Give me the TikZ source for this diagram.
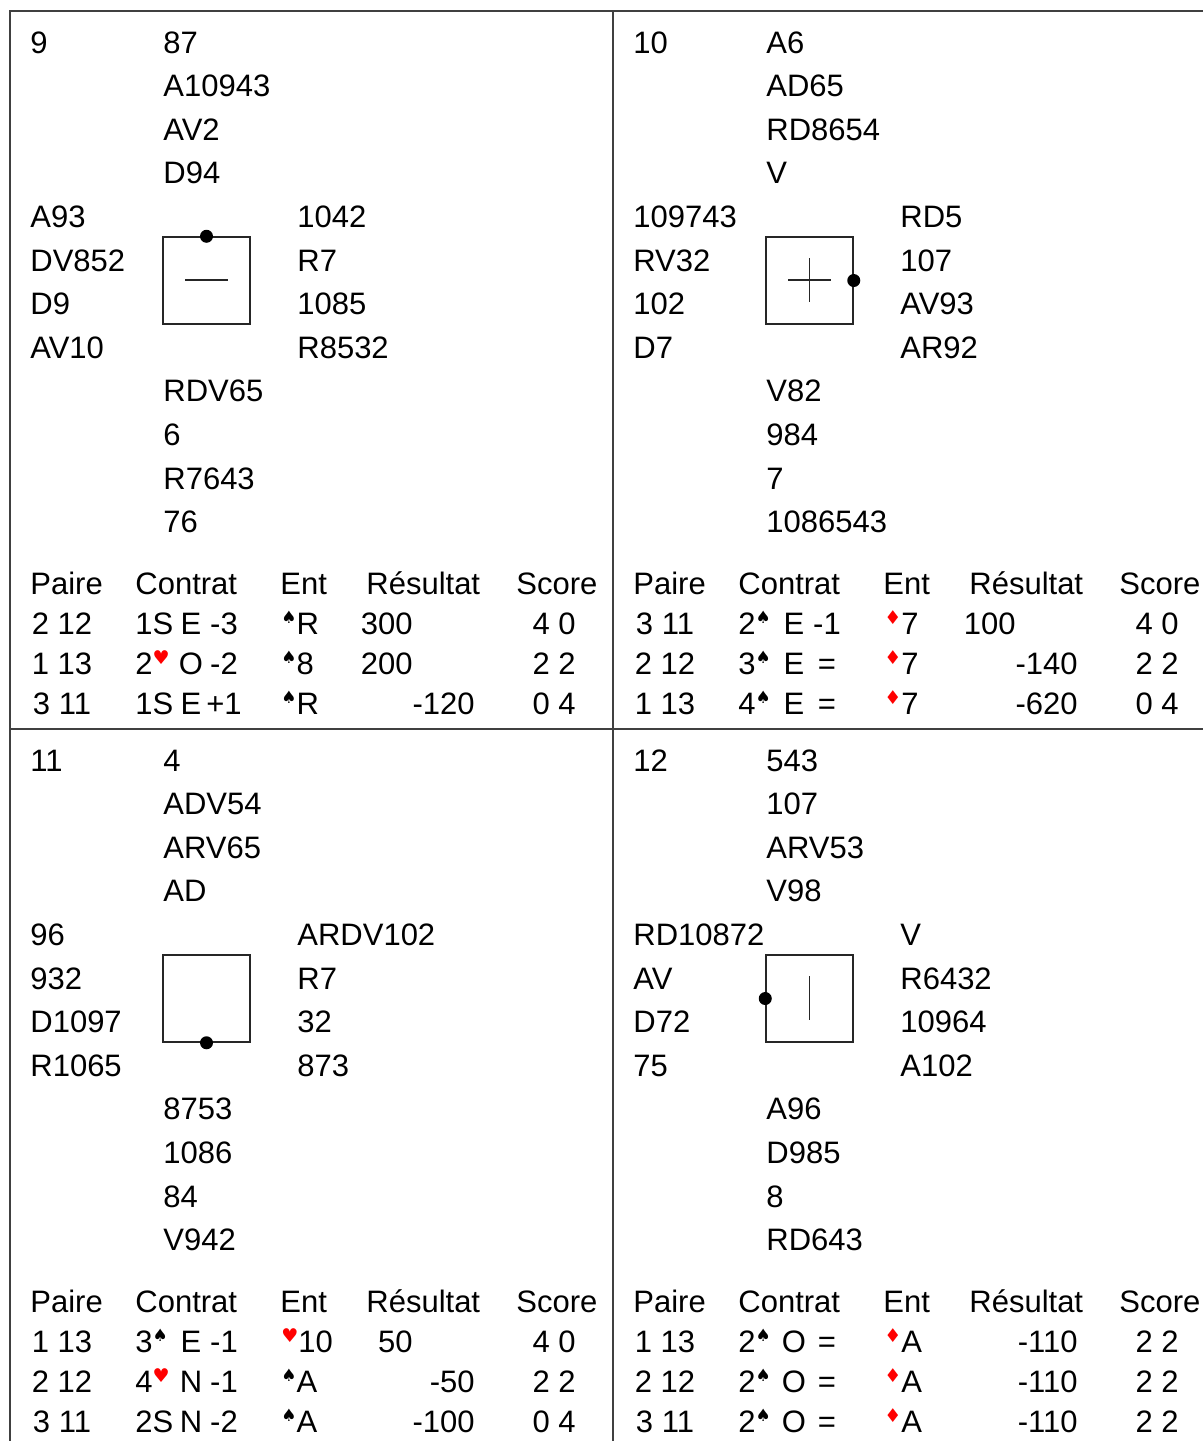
\documentclass[tikz,border=0pt]{standalone}
\usepackage{fontspec}
\setmainfont{Liberation Sans}
\newfontfamily\symfont{DejaVu Sans}
\newcommand\suitS{\raisebox{0.34em}{\symfont\fontsize{8.5}{9}\selectfont ♠}}
\newcommand\suitH{\raisebox{0.30em}{\symfont\fontsize{9.5}{10}\selectfont\color{red}♥}}
\newcommand\suitD{\raisebox{0.30em}{\symfont\fontsize{9.5}{10}\selectfont\color{red}♦}}
\newcommand\handcol[7]{%
  \node[txt] (#1a) at (#2,{53+43.6*#3}) {#4};
  \node[txt] (#1b) at (#2,{53+43.6*(#3+1)}) {#5};
  \node[txt] (#1c) at (#2,{53+43.6*(#3+2)}) {#6};
  \node[txt] (#1d) at (#2,{53+43.6*(#3+3)}) {#7};}
\newcommand\tabrow[7]{%
  \node[ctxt] (#1p) at (62,#2) {#3};
  \node[txt] (#1c) at (135,#2) {#4};
  \node[ctxt] (#1d) at (191,#2) {#5};
  \node[ctxt] (#1r) at (224,#2) {#6};
  \node[txt] (#1l) at (281,#2) {#7};}
\newcommand\tabres[5]{%
  \node[rtxt] (#1s) at (#3,#2) {#4};
  \node[rtxt] (#1t) at (576,#2) {#5};}
\newcommand\tabhead[1]{%
  \node[txt] (#1hp) at (30,594) {Paire};
  \node[txt] (#1hc) at (135,594) {Contrat};
  \node[txt] (#1he) at (280,594) {Ent};
  \node[txt] (#1hr) at (366,594) {Résultat};
  \node[txt] (#1hs) at (516,594) {Score};}
\tikzset{
  txt/.style={inner sep=0pt, anchor=base west, font=\fontsize{15.5}{18}\selectfont},
  ctxt/.style={txt, anchor=base},
  rtxt/.style={txt, anchor=base east},
  gridline/.style={draw=black!75, line width=0.8pt},
  dealbox/.style={draw=black!85, line width=0.75pt, minimum size=43.5pt, inner sep=0pt},
  vuln/.style={fill=black, circle, inner sep=0pt, minimum size=6.5pt},
  vulnline/.style={draw=black!85, line width=0.75pt}
}
\begin{document}
\begin{tikzpicture}[x=0.5pt,y=-0.5pt]
\useasboundingbox (0,0) rectangle (1203,1441);
\clip (0,0) rectangle (1203,1441);
% grid
\coordinate (g1) at (10,11); \coordinate (g2) at (1216,1447);
\coordinate (vt) at (613,11); \coordinate (vb) at (613,1447);
\coordinate (hl) at (10,729); \coordinate (hr) at (1216,729);
\draw[gridline] (g1) rectangle (g2);
\draw[gridline] (vt) -- (vb);
\draw[gridline] (hl) -- (hr);

% ---------------- Board 9
\begin{scope}
\node[txt] (b9num) at (30,53) {9};
\handcol{b9n}{163}{0}{87}{A10943}{AV2}{D94}
\handcol{b9w}{30}{4}{A93}{DV852}{D9}{AV10}
\handcol{b9e}{297}{4}{1042}{R7}{1085}{R8532}
\handcol{b9s}{163}{8}{RDV65}{6}{R7643}{76}
\node[dealbox] (b9box) at (206.5,280.5) {};
\node[vuln] (b9dot) at (b9box.north) {};
\coordinate (b9l1) at (185,280); \coordinate (b9l2) at (228,280);
\draw[vulnline] (b9l1) -- (b9l2);
\tabhead{b9}
\tabrow{b9ra}{634}{2 12}{1S}{E}{-3}{\suitS R}
\tabres{b9ra}{634}{413}{300}{4 0}
\tabrow{b9rb}{674}{1 13}{2\suitH}{O}{-2}{\suitS 8}
\tabres{b9rb}{674}{413}{200}{2 2}
\tabrow{b9rc}{714}{3 11}{1S}{E}{+1}{\suitS R}
\tabres{b9rc}{714}{475}{-120}{0 4}
\end{scope}

% ---------------- Board 10
\begin{scope}[shift={(603,0)}]
\node[txt] (b10num) at (30,53) {10};
\handcol{b10n}{163}{0}{A6}{AD65}{RD8654}{V}
\handcol{b10w}{30}{4}{109743}{RV32}{102}{D7}
\handcol{b10e}{297}{4}{RD5}{107}{AV93}{AR92}
\handcol{b10s}{163}{8}{V82}{984}{7}{1086543}
\node[dealbox] (b10box) at (206.5,280.5) {};
\node[vuln] (b10dot) at (b10box.east) {};
\coordinate (b10h1) at (185,280); \coordinate (b10h2) at (228,280);
\coordinate (b10v1) at (206.5,258); \coordinate (b10v2) at (206.5,302);
\draw[vulnline] (b10h1) -- (b10h2);
\draw[vulnline] (b10v1) -- (b10v2);
\tabhead{b10}
\tabrow{b10ra}{634}{3 11}{2\suitS}{E}{-1}{\suitD 7}
\tabres{b10ra}{634}{413}{100}{4 0}
\tabrow{b10rb}{674}{2 12}{3\suitS}{E}{=}{\suitD 7}
\tabres{b10rb}{674}{475}{-140}{2 2}
\tabrow{b10rc}{714}{1 13}{4\suitS}{E}{=}{\suitD 7}
\tabres{b10rc}{714}{475}{-620}{0 4}
\end{scope}

% ---------------- Board 11
\begin{scope}[shift={(0,718)}]
\node[txt] (b11num) at (30,53) {11};
\handcol{b11n}{163}{0}{4}{ADV54}{ARV65}{AD}
\handcol{b11w}{30}{4}{96}{932}{D1097}{R1065}
\handcol{b11e}{297}{4}{ARDV102}{R7}{32}{873}
\handcol{b11s}{163}{8}{8753}{1086}{84}{V942}
\node[dealbox] (b11box) at (206.5,280.5) {};
\node[vuln] (b11dot) at (b11box.south) {};
\tabhead{b11}
\tabrow{b11ra}{634}{1 13}{3\suitS}{E}{-1}{\suitH 10}
\tabres{b11ra}{634}{413}{50}{4 0}
\tabrow{b11rb}{674}{2 12}{4\suitH}{N}{-1}{\suitS A}
\tabres{b11rb}{674}{475}{-50}{2 2}
\tabrow{b11rc}{714}{3 11}{2S}{N}{-2}{\suitS A}
\tabres{b11rc}{714}{475}{-100}{0 4}
\end{scope}

% ---------------- Board 12
\begin{scope}[shift={(603,718)}]
\node[txt] (b12num) at (30,53) {12};
\handcol{b12n}{163}{0}{543}{107}{ARV53}{V98}
\handcol{b12w}{30}{4}{RD10872}{AV}{D72}{75}
\handcol{b12e}{297}{4}{V}{R6432}{10964}{A102}
\handcol{b12s}{163}{8}{A96}{D985}{8}{RD643}
\node[dealbox] (b12box) at (206.5,280.5) {};
\node[vuln] (b12dot) at (b12box.west) {};
\coordinate (b12v1) at (206.5,258); \coordinate (b12v2) at (206.5,302);
\draw[vulnline] (b12v1) -- (b12v2);
\tabhead{b12}
\tabrow{b12ra}{634}{1 13}{2\suitS}{O}{=}{\suitD A}
\tabres{b12ra}{634}{475}{-110}{2 2}
\tabrow{b12rb}{674}{2 12}{2\suitS}{O}{=}{\suitD A}
\tabres{b12rb}{674}{475}{-110}{2 2}
\tabrow{b12rc}{714}{3 11}{2\suitS}{O}{=}{\suitD A}
\tabres{b12rc}{714}{475}{-110}{2 2}
\end{scope}
\end{tikzpicture}
\end{document}
